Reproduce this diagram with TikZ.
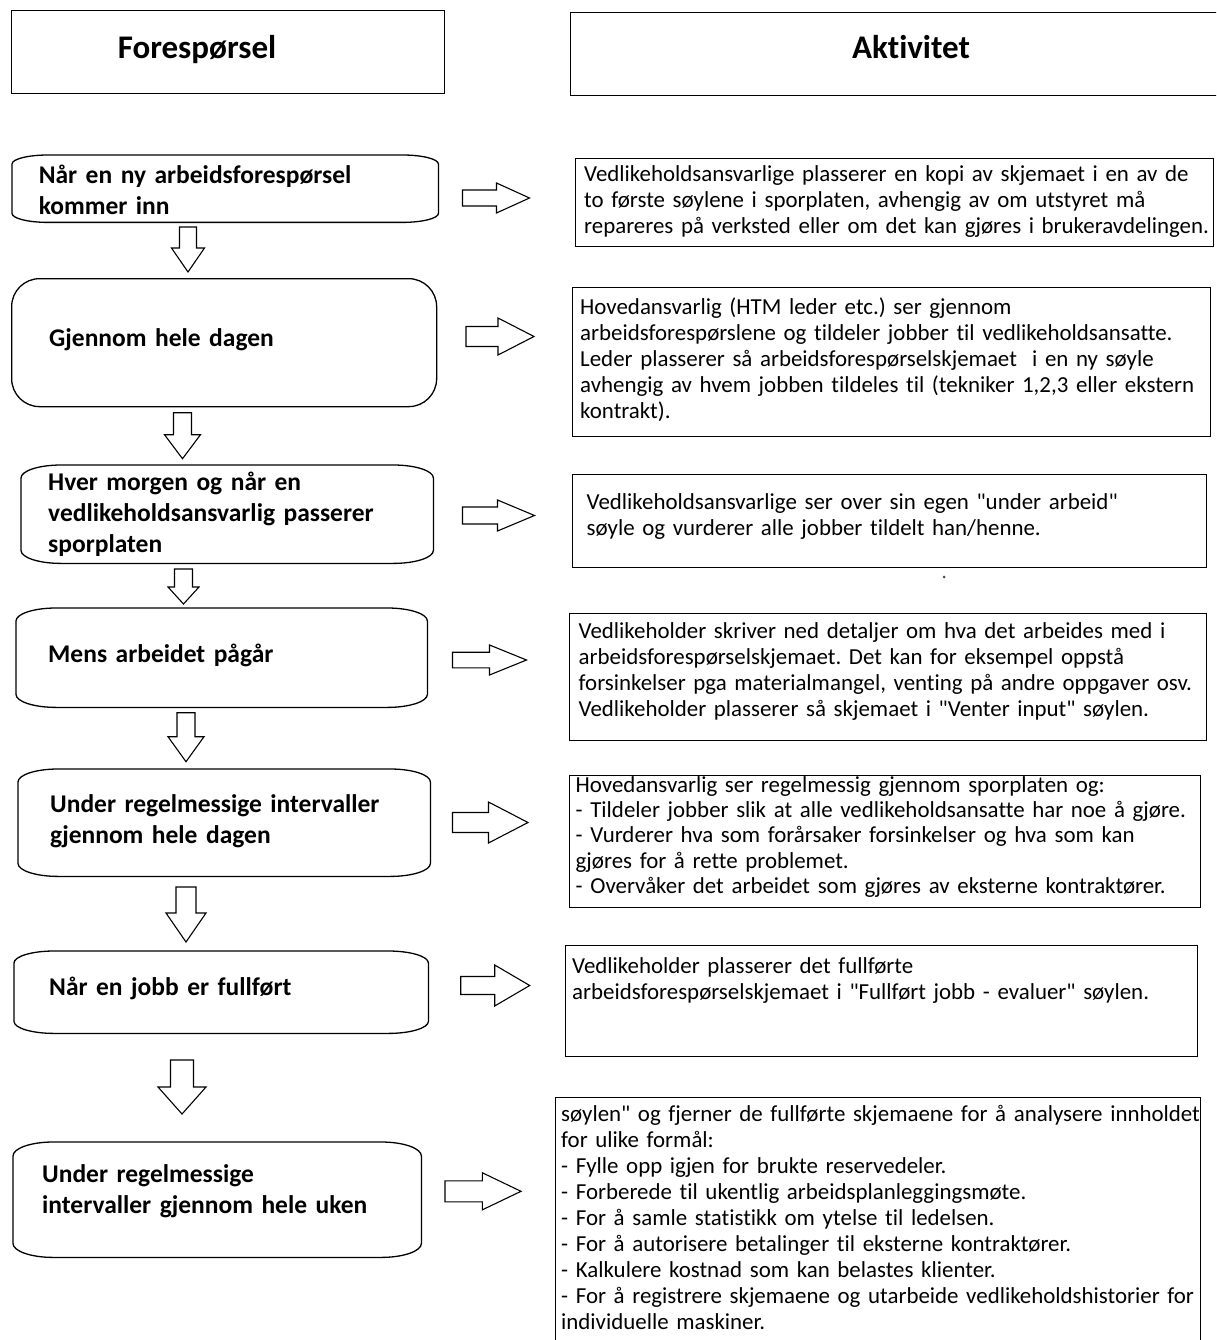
\documentclass[tikz,border=0pt]{standalone}
\usepackage{fontspec}
\setmainfont{Carlito}[Ligatures={TeXOff,CommonOff}]
\usetikzlibrary{calc}

% Box with elliptical corners: #1 node name, #2 horizontal radius, #3 vertical radius
\newcommand\capsuleframe[3]{%
  \draw[outline] ($(#1.north west)+(#2,0)$) -- ($(#1.north east)+(-#2,0)$)
    arc[start angle=90, end angle=0, x radius=#2pt, y radius=#3pt]
    -- ($(#1.south east)+(0,-#3)$)
    arc[start angle=0, end angle=-90, x radius=#2pt, y radius=#3pt]
    -- ($(#1.south west)+(#2,0)$)
    arc[start angle=270, end angle=180, x radius=#2pt, y radius=#3pt]
    -- ($(#1.north west)+(0,#3)$)
    arc[start angle=180, end angle=90, x radius=#2pt, y radius=#3pt] -- cycle;}

\begin{document}
\frenchspacing
\begin{tikzpicture}[x=1pt,y=-1pt,
  outline/.style={draw=black, line width=1.3pt},
  area/.style={rectangle, inner sep=0pt, anchor=north west},
  frame/.style={area, outline},
  headtext/.style={font=\fontsize{33}{40}\selectfont\bfseries, inner sep=0pt, anchor=base},
  steptext/.style={font=\fontsize{25.5}{31}\selectfont\bfseries, inner sep=0pt, anchor=base west, align=left, text width=400pt},
  acttext/.style={font=\fontsize{22.9}{26}\selectfont, inner sep=0pt, anchor=base west, align=left, text width=660pt},
  % block arrow along +x: length, head length, half head width, half shaft width
  pics/barrow/.style n args={4}{code={
    \draw[draw=black, line width=1.1pt, line join=miter, fill=white]
      (0,-#4) -- ({#1-#2},-#4) -- ({#1-#2},-#3) -- (#1,0) -- ({#1-#2},#3) -- ({#1-#2},#4) -- (0,#4) -- cycle;}},
]
\useasboundingbox (0,0) rectangle (1216,1340);
\fill[white] (0,0) rectangle (1216,1340);
\clip (0,0) rectangle (1216,1340);

% ---------- column headers ----------
\node[frame, minimum width=433pt, minimum height=83pt] (hl) at (11,10) {};
\node[headtext] (hlt) at (197,59) {Forespørsel};
\node[frame, minimum width=680pt, minimum height=83pt] (hr) at (570,12) {};
\node[headtext] (hrt) at (911,59) {Aktivitet};

% ---------- left column: triggers ----------
\node[area, minimum width=426pt, minimum height=67pt] (b1) at (12,155) {};
\capsuleframe{b1}{36}{9}
\node[steptext] (b1t) at (38.6,184) {Når en ny arbeidsforespørsel\\kommer inn};

\node[frame, rounded corners=28pt, minimum width=425pt, minimum height=128pt] (b2) at (11,278) {};
\node[steptext] (b2t) at (49,346) {Gjennom hele dagen};

\node[area, minimum width=412pt, minimum height=98pt] (b3) at (21,465) {};
\capsuleframe{b3}{40}{13}
\node[steptext] (b3t) at (48,490) {Hver morgen og når en\\vedlikeholdsansvarlig passerer\\sporplaten};

\node[area, minimum width=411pt, minimum height=99pt] (b4) at (16,608) {};
\capsuleframe{b4}{40}{13}
\node[steptext] (b4t) at (48,662) {Mens arbeidet pågår};

\node[area, minimum width=412pt, minimum height=107pt] (b5) at (18,769) {};
\capsuleframe{b5}{40}{13}
\node[steptext] (b5t) at (50,812) {Under regelmessige intervaller\\gjennom hele dagen};

\node[area, minimum width=414pt, minimum height=82pt] (b6) at (14,951) {};
\capsuleframe{b6}{40}{12}
\node[steptext] (b6t) at (49,995) {Når en jobb er fullført};

\node[area, minimum width=408pt, minimum height=115pt] (b7) at (13,1142) {};
\capsuleframe{b7}{40}{14}
\node[steptext] (b7t) at (42,1182) {Under regelmessige\\intervaller gjennom hele uken};

% ---------- downward block arrows ----------
\pic[rotate=-90] at (188,227)   {barrow={45}{24}{16.5}{8.5}};
\pic[rotate=-90] at (182.5,412.7) {barrow={46}{24}{18}{9}};
\pic[rotate=-90] at (183.5,569) {barrow={35}{17}{15.5}{9}};
\pic[rotate=-90] at (186,712.7) {barrow={49}{25}{18}{9}};
\pic[rotate=-90] at (186,887)   {barrow={55}{29}{20}{10}};
\pic[rotate=-90] at (182,1060)  {barrow={54}{27}{24}{11.5}};

% ---------- rightward block arrows ----------
\pic at (462.5,198)  {barrow={67}{33}{15}{8}};
\pic at (466,336.5)  {barrow={68}{36}{18.5}{10}};
\pic at (462.5,515.5) {barrow={72}{37}{15.5}{8.5}};
\pic at (452.5,660)  {barrow={74}{37}{15}{7.8}};
\pic at (452.5,822.5) {barrow={75.5}{39.5}{20.5}{10}};
\pic at (460.7,985.5) {barrow={69}{35}{20.5}{9}};
\pic at (445,1191.3) {barrow={76}{38.6}{18.5}{10.5}};

% ---------- right column: activities ----------
\node[frame, minimum width=638pt, minimum height=88pt] (r1) at (575,158) {};
\node[acttext] (r1t) at (584,182) {Vedlikeholdsansvarlige plasserer en kopi av skjemaet i en av de\\to første søylene i sporplaten, avhengig av om utstyret må\\repareres på verksted eller om det kan gjøres i brukeravdelingen.};

\node[frame, minimum width=638pt, minimum height=149pt] (r2) at (572,287) {};
\node[acttext] (r2t) at (580,314) {Hovedansvarlig (HTM leder etc.) ser gjennom\\arbeidsforespørslene og tildeler jobber til vedlikeholdsansatte.\\Leder plasserer så arbeidsforespørselskjemaet~ i en ny søyle\\avhengig av hvem jobben tildeles til (tekniker 1,2,3 eller ekstern\\kontrakt).};

\node[frame, minimum width=634pt, minimum height=93pt] (r3) at (572,474) {};
\node[acttext] (r3t) at (586.5,509) {Vedlikeholdsansvarlige ser over sin egen "under arbeid"\\søyle og vurderer alle jobber tildelt han/henne.};
\fill[black!70] (944,577) circle[radius=1.5pt];

\node[frame, minimum width=637pt, minimum height=127pt] (r4) at (569,613) {};
\node[acttext] (r4t) at (578.5,638) {Vedlikeholder skriver ned detaljer om hva det arbeides med i\\arbeidsforespørselskjemaet. Det kan for eksempel oppstå\\forsinkelser pga materialmangel, venting på andre oppgaver osv.\\Vedlikeholder plasserer så skjemaet i "Venter input" søylen.};

\node[frame, minimum width=631pt, minimum height=132pt] (r5) at (569,775) {};
\node[acttext, font=\fontsize{22.9}{25.4}\selectfont] (r5t) at (575.5,792) {Hovedansvarlig ser regelmessig gjennom sporplaten og:\\- Tildeler jobber slik at alle vedlikeholdsansatte har noe å gjøre.\\- Vurderer hva som forårsaker forsinkelser og hva som kan\\gjøres for å rette problemet.\\- Overvåker det arbeidet som gjøres av eksterne kontraktører.};

\node[frame, minimum width=632pt, minimum height=111pt] (r6) at (565,945) {};
\node[acttext] (r6t) at (572,973) {Vedlikeholder plasserer det fullførte\\arbeidsforespørselskjemaet i "Fullført jobb - evaluer" søylen.};

\node[frame, minimum width=645pt, minimum height=270pt] (r7) at (555,1097) {};
\node[acttext] (r7t) at (561,1121) {søylen" og fjerner de fullførte skjemaene for å analysere innholdet\\for ulike formål:\\- Fylle opp igjen for brukte reservedeler.\\- Forberede til ukentlig arbeidsplanleggingsmøte.\\- For å samle statistikk om ytelse til ledelsen.\\- For å autorisere betalinger til eksterne kontraktører.\\- Kalkulere kostnad som kan belastes klienter.\\- For å registrere skjemaene og utarbeide vedlikeholdshistorier for\\individuelle maskiner.};
\end{tikzpicture}
\end{document}
